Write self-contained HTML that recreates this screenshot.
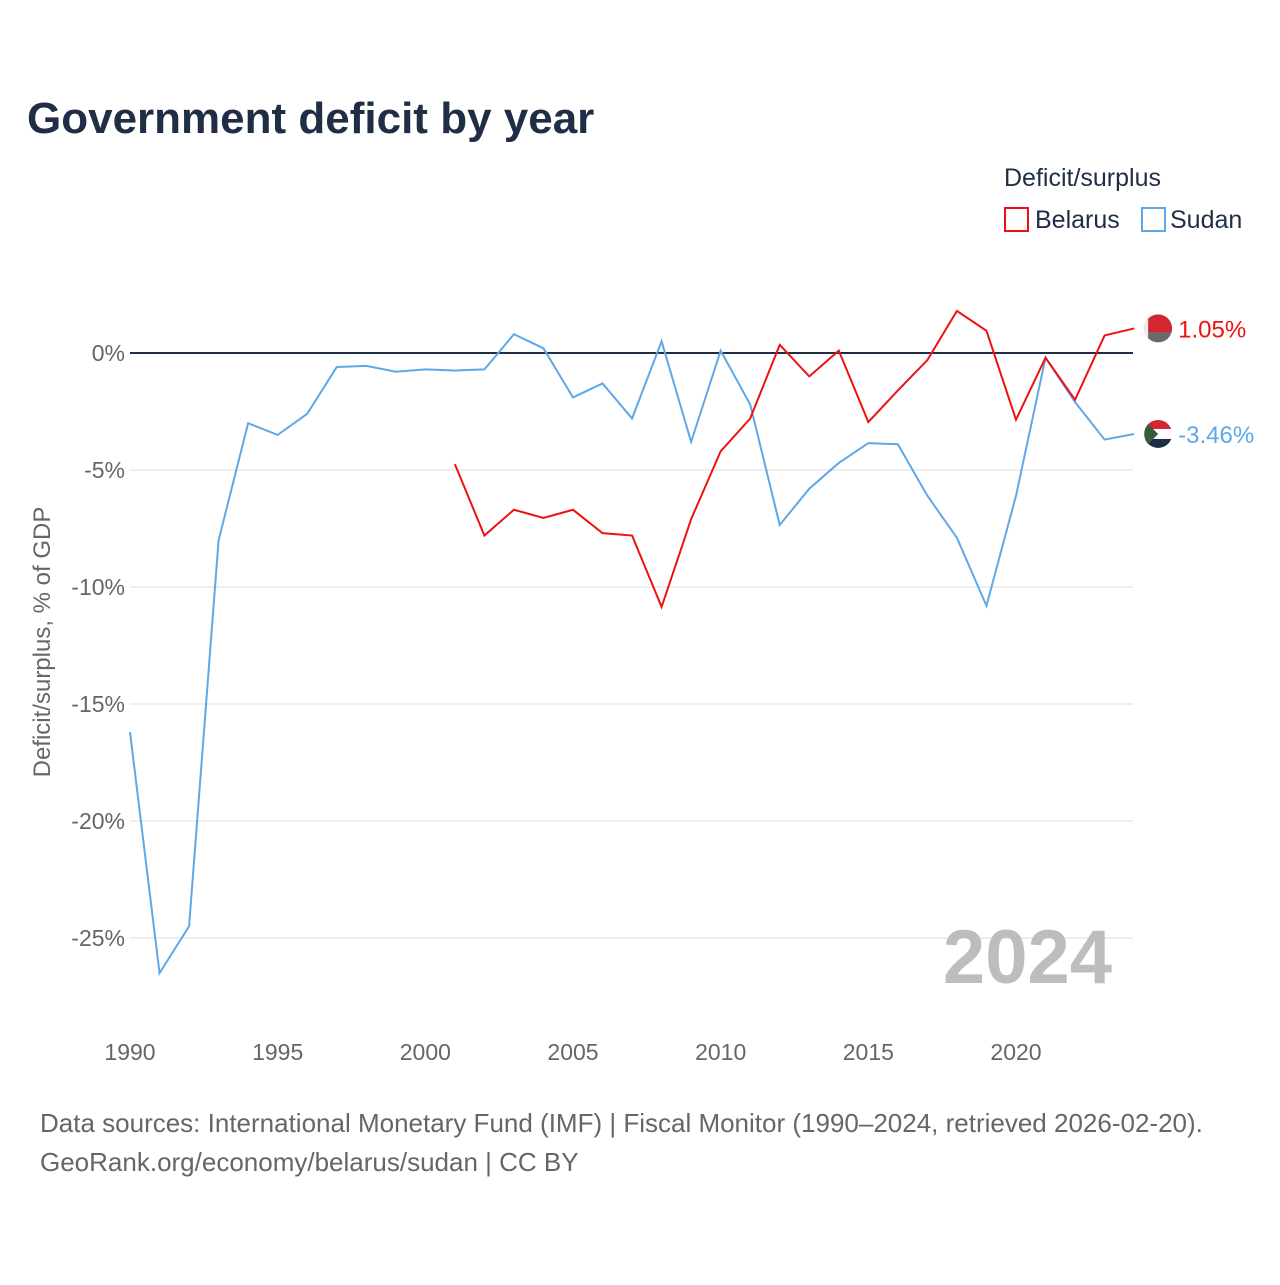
<!DOCTYPE html>
<html><head><meta charset="utf-8"><style>
body{margin:0;background:#fff;font-family:"Liberation Sans",sans-serif;}
</style></head><body>
<svg id="chart" width="1280" height="1280" xmlns="http://www.w3.org/2000/svg" style="font-family:'Liberation Sans',sans-serif">
<defs>
<clipPath id="c1"><circle cx="0" cy="0" r="14"/></clipPath>
</defs>
<text x="27" y="133" font-size="44" font-weight="bold" fill="#1f2d45">Government deficit by year</text>
<text x="1004" y="186" font-size="25" fill="#1f2d45">Deficit/surplus</text>
<g><rect x="1005" y="208" width="23" height="23" fill="none" stroke="#ee1111" stroke-width="2"/><text x="1035" y="228" font-size="25" fill="#1f2d45">Belarus</text></g>
<g><rect x="1142" y="208" width="23" height="23" fill="none" stroke="#5fa8e8" stroke-width="2"/><text x="1170" y="228" font-size="25" fill="#1f2d45">Sudan</text></g>
<text transform="translate(50,642) rotate(-90)" text-anchor="middle" font-size="24" fill="#666">Deficit/surplus, % of GDP</text>
<g id="grid"></g><g id="lines"></g>
<text x="1112" y="983" text-anchor="end" font-size="76" font-weight="bold" fill="#bdbdbd">2024</text>
<text x="40" y="1132" font-size="26" fill="#666">Data sources: International Monetary Fund (IMF) | Fiscal Monitor (1990–2024, retrieved 2026-02-20).</text>
<text x="40" y="1171" font-size="26" fill="#666">GeoRank.org/economy/belarus/sudan | CC BY</text>
</svg>
<script>
const yTicks=[0,-5,-10,-15,-20,-25];
const xTicks=[1990,1995,2000,2005,2010,2015,2020];
const sudanYears=[1990,1991,1992,1993,1994,1995,1996,1997,1998,1999,2000,2001,2002,2003,2004,2005,2006,2007,2008,2009,2010,2011,2012,2013,2014,2015,2016,2017,2018,2019,2020,2021,2022,2023,2024];
const sudanValues=[-16.2,-26.5,-24.5,-8.0,-3.0,-3.5,-2.6,-0.6,-0.55,-0.8,-0.7,-0.75,-0.7,0.8,0.2,-1.9,-1.3,-2.8,0.5,-3.8,0.1,-2.2,-7.35,-5.8,-4.7,-3.85,-3.9,-6.1,-7.9,-10.8,-6.1,-0.2,-2.1,-3.7,-3.46];
const belarusYears=[2001,2002,2003,2004,2005,2006,2007,2008,2009,2010,2011,2012,2013,2014,2015,2016,2017,2018,2019,2020,2021,2022,2023,2024];
const belarusValues=[-4.75,-7.8,-6.7,-7.05,-6.7,-7.7,-7.8,-10.85,-7.1,-4.2,-2.8,0.35,-1.0,0.1,-2.95,-1.6,-0.3,1.8,0.95,-2.85,-0.2,-2.0,0.75,1.05];
const NS='http://www.w3.org/2000/svg';
const X=y=>130+(y-1990)*886/30;
const Y=v=>353-v*23.4;
function mk(t,a,p){const e=document.createElementNS(NS,t);for(const k in a)e.setAttribute(k,a[k]);p.appendChild(e);return e;}
const grid=document.getElementById('grid'),lines=document.getElementById('lines');
yTicks.forEach(v=>{
 const l=mk('line',{x1:130,x2:1133,y1:Y(v),y2:Y(v),stroke:v===0?'#1f2d45':'#e8e8e8','stroke-width':v===0?2:1.5},grid);
 
 
 const t=mk('text',{x:125,y:Y(v)+8,'text-anchor':'end','font-size':23,fill:'#666'},grid);
 t.textContent=v+'%';
 
 
});
xTicks.forEach(y=>{
 const t=mk('text',{x:X(y),y:1060,'text-anchor':'middle','font-size':23,fill:'#666'},grid);
 t.textContent=y;
 
 
});
function series(years,vals,color,name,label){
 const d=years.map((y,i)=>(i?'L':'M')+X(y)+','+Y(vals[i])).join('');
 const p=mk('path',{d:d,fill:'none',stroke:color,'stroke-width':2},lines);
 
 
 const lx=X(years[years.length-1]),ly=Y(vals[vals.length-1]);
 const g=mk('g',{transform:'translate('+(lx+24)+','+ly+')','clip-path':'url(#c1)'},lines);
 
 
 if(name==='belarus'){
  mk('rect',{x:-14,y:-14,width:28,height:18,fill:'#d22730'},g);
  mk('rect',{x:-14,y:4,width:28,height:10,fill:'#6a6a6a'},g);
  mk('rect',{x:-14,y:-14,width:4,height:28,fill:'#eee'},g);
 } else {
  mk('rect',{x:-14,y:-14,width:28,height:10,fill:'#d22730'},g);
  mk('rect',{x:-14,y:-5,width:28,height:10,fill:'#fff'},g);
  mk('rect',{x:-14,y:5,width:28,height:10,fill:'#1f2d45'},g);
  mk('path',{d:'M-14,-14L0,0L-14,14Z',fill:'#3a5a40'},g);
 }
 const t=mk('text',{x:lx+44,y:ly+9,'font-size':24,fill:color},lines);
 t.textContent=label;
 
 
}
series(sudanYears,sudanValues,'#5fa8e8','sudan',sudanValues[sudanValues.length-1].toFixed(2)+'%');
series(belarusYears,belarusValues,'#ee1111','belarus',belarusValues[belarusValues.length-1].toFixed(2)+'%');
</script>
</body></html>
